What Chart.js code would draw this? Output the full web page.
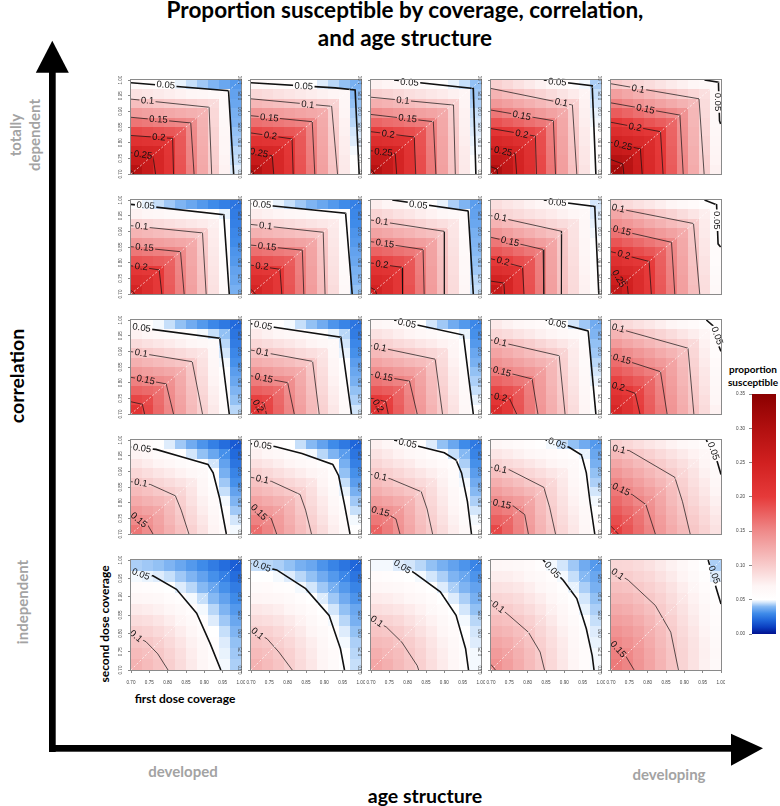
<!DOCTYPE html>
<html>
<head>
<meta charset="utf-8">
<script src="https://cdn.jsdelivr.net/npm/chart.js@4.4.1/dist/chart.umd.min.js"></script>
<style>
  html, body { margin: 0; padding: 0; background: #fff; }
  body { position: relative; width: 780px; height: 806px; overflow: hidden; font-family: Lato, "Noto Sans", sans-serif; }
  .title { position: absolute; left: 30px; width: 750px; top: -4.4px; text-align: center; font-weight: 700; font-size: 22.5px; line-height: 28px; color: #000; }
  .c { position: absolute; transform: translate(-50%, -50%); white-space: nowrap; text-align: center; }
  .rot { transform: translate(-50%, -50%) rotate(-90deg); }
  .grey { color: #a3a3a3; font-weight: 700; font-size: 15px; line-height: 19px; }
  .big { color: #000; font-weight: 700; font-size: 19.5px; }
  .axis { color: #000; font-weight: 700; font-size: 12px; }
  .key { color: #000; font-weight: 700; font-size: 10px; line-height: 12.5px; }
  canvas { position: absolute; }
</style>
</head>
<body>
<div class="title">Proportion susceptible by coverage, correlation,<br>and age structure</div>

<svg width="780" height="806" style="position:absolute;left:0;top:0">
  <rect x="49" y="70" width="6.7" height="682" fill="#000"/>
  <polygon points="52.3,40.7 35.8,72.7 68.8,72.7" fill="#000"/>
  <rect x="49" y="745" width="683" height="6.7" fill="#000"/>
  <polygon points="731,733.8 731,765.8 763,748.3" fill="#000"/>
</svg>

<div class="c rot grey" style="left:24.5px;top:135px">totally<br>dependent</div>
<div class="c rot big" style="left:16px;top:376px">correlation</div>
<div class="c rot grey" style="left:22px;top:602px">independent</div>
<div class="c grey" style="left:183px;top:771px">developed</div>
<div class="c grey" style="left:669px;top:774px">developing</div>
<div class="c big" style="left:425px;top:795px">age structure</div>
<div class="c rot axis" style="left:104px;top:624px">second dose coverage</div>
<div class="c axis" style="left:185px;top:698px">first dose coverage</div>
<div class="c key" style="left:753px;top:375px">proportion<br>susceptible</div>

<script>
"use strict";

// axes shared by every panel
const coverageTicks = [0.7, 0.75, 0.8, 0.85, 0.9, 0.95, 1.0];
const cellCentres = [0.715, 0.745, 0.775, 0.805, 0.835, 0.865, 0.895, 0.925, 0.955, 0.985];
const contourLevels = [0.05, 0.1, 0.15, 0.2, 0.25, 0.3];
const colourbarTicks = [0, 0.05, 0.1, 0.15, 0.2, 0.25, 0.3, 0.35];

// proportion susceptible, one 10x10 grid per age structure (developed -> developing),
// rows from second dose coverage 0.985 (top) down to 0.715, columns first dose 0.715 -> 0.985
const dependentGrids = [
  [[.060,.057,.054,.051,.048,.045,.042,.039,.036,.033],[.084,.081,.078,.075,.072,.069,.066,.063,.060,.035],[.110,.107,.104,.101,.098,.095,.092,.089,.062,.036],[.136,.133,.130,.127,.124,.121,.118,.091,.063,.038],[.163,.160,.157,.154,.151,.148,.120,.092,.065,.039],[.191,.188,.185,.182,.179,.150,.121,.094,.066,.041],[.217,.214,.211,.208,.181,.151,.123,.095,.068,.042],[.242,.239,.236,.210,.182,.153,.124,.097,.069,.044],[.266,.263,.238,.211,.184,.154,.126,.098,.071,.045],[.291,.265,.239,.213,.185,.156,.127,.100,.072,.047]],
  [[.065,.062,.059,.056,.053,.050,.047,.044,.041,.038],[.091,.088,.085,.082,.079,.076,.073,.070,.067,.040],[.116,.113,.110,.107,.104,.101,.098,.095,.069,.041],[.142,.139,.136,.133,.130,.127,.124,.097,.070,.043],[.167,.164,.161,.158,.155,.152,.126,.098,.072,.044],[.191,.188,.185,.182,.179,.154,.127,.100,.073,.046],[.215,.212,.209,.206,.181,.155,.129,.101,.075,.047],[.240,.237,.234,.208,.182,.157,.130,.103,.076,.049],[.265,.262,.236,.209,.184,.158,.132,.104,.078,.050],[.291,.264,.237,.211,.185,.160,.133,.106,.079,.052]],
  [[.073,.070,.066,.062,.059,.055,.052,.048,.045,.041],[.098,.095,.091,.087,.084,.080,.077,.073,.070,.042],[.122,.119,.115,.112,.108,.104,.101,.097,.071,.043],[.148,.144,.140,.137,.133,.130,.126,.098,.072,.045],[.173,.169,.166,.162,.159,.155,.127,.099,.073,.046],[.198,.195,.191,.188,.184,.156,.128,.101,.074,.047],[.223,.220,.216,.213,.185,.157,.130,.102,.075,.048],[.248,.245,.241,.214,.186,.159,.131,.103,.077,.049],[.271,.267,.242,.215,.188,.160,.132,.104,.078,.051],[.291,.268,.243,.216,.189,.161,.133,.105,.079,.052]],
  [[.097,.091,.085,.079,.073,.067,.061,.055,.049,.043],[.119,.113,.107,.101,.095,.089,.083,.077,.071,.045],[.139,.133,.127,.121,.115,.109,.103,.097,.072,.046],[.162,.156,.150,.144,.138,.132,.126,.099,.074,.048],[.185,.179,.173,.167,.161,.155,.128,.100,.075,.049],[.210,.204,.198,.192,.186,.157,.129,.102,.077,.051],[.234,.228,.222,.216,.188,.158,.131,.103,.078,.052],[.253,.247,.241,.218,.189,.160,.132,.105,.080,.054],[.277,.271,.243,.219,.191,.161,.134,.106,.081,.055],[.301,.273,.244,.221,.192,.163,.135,.108,.083,.057]],
  [[.102,.097,.093,.088,.083,.078,.074,.069,.064,.059],[.134,.128,.122,.116,.110,.104,.098,.092,.086,.061],[.156,.150,.144,.138,.132,.126,.120,.114,.088,.062],[.179,.173,.167,.161,.155,.149,.143,.116,.089,.064],[.202,.196,.190,.184,.178,.172,.145,.117,.091,.065],[.224,.218,.212,.206,.200,.174,.146,.119,.092,.067],[.245,.239,.233,.227,.202,.175,.148,.120,.094,.068],[.267,.261,.255,.229,.203,.177,.149,.122,.095,.070],[.292,.286,.257,.230,.205,.178,.151,.123,.097,.071],[.317,.288,.258,.232,.206,.180,.152,.125,.098,.073]]
];
const correlationGrids2 = [
  [[.051,.048,.045,.042,.039,.036,.033,.030,.027,.024],[.072,.069,.066,.063,.060,.057,.054,.051,.048,.026],[.095,.092,.089,.086,.083,.080,.077,.074,.050,.027],[.118,.115,.112,.109,.106,.103,.100,.076,.051,.029],[.140,.137,.134,.131,.128,.125,.102,.077,.053,.030],[.162,.159,.156,.153,.150,.127,.103,.079,.054,.032],[.184,.181,.178,.175,.152,.128,.105,.080,.056,.033],[.207,.204,.201,.177,.153,.130,.106,.082,.057,.035],[.225,.222,.203,.178,.155,.131,.108,.083,.059,.036],[.243,.224,.204,.180,.156,.133,.109,.085,.060,.038]],
  [[.054,.051,.048,.045,.042,.039,.036,.033,.030,.027],[.076,.073,.070,.067,.064,.061,.058,.055,.052,.029],[.098,.095,.092,.089,.086,.083,.080,.077,.054,.030],[.120,.117,.114,.111,.108,.105,.102,.079,.055,.032],[.143,.140,.137,.134,.131,.128,.104,.080,.057,.033],[.166,.163,.160,.157,.154,.130,.105,.082,.058,.035],[.188,.185,.182,.179,.156,.131,.107,.083,.060,.036],[.209,.206,.203,.181,.157,.133,.108,.085,.061,.038],[.226,.223,.205,.182,.159,.134,.110,.086,.063,.039],[.243,.225,.206,.184,.160,.136,.111,.088,.064,.041]],
  [[.075,.070,.066,.061,.057,.052,.048,.043,.039,.034],[.094,.090,.085,.081,.076,.072,.067,.063,.058,.035],[.113,.108,.104,.099,.095,.090,.086,.081,.059,.036],[.131,.127,.122,.118,.113,.109,.104,.082,.060,.038],[.153,.148,.144,.139,.135,.130,.105,.083,.062,.039],[.174,.170,.165,.161,.156,.131,.106,.085,.063,.040],[.196,.191,.187,.182,.157,.132,.108,.086,.064,.041],[.215,.211,.206,.183,.158,.134,.109,.087,.065,.042],[.232,.227,.207,.184,.160,.135,.110,.088,.066,.044],[.247,.228,.208,.186,.161,.136,.111,.089,.068,.045]],
  [[.087,.082,.078,.073,.069,.064,.060,.055,.051,.046],[.097,.093,.089,.085,.081,.077,.073,.069,.065,.047],[.118,.113,.108,.103,.098,.093,.088,.083,.066,.048],[.142,.135,.128,.122,.115,.109,.102,.084,.067,.049],[.162,.155,.149,.142,.135,.129,.103,.085,.068,.050],[.182,.176,.169,.162,.156,.130,.104,.086,.069,.051],[.203,.196,.189,.183,.157,.131,.105,.087,.070,.052],[.224,.218,.211,.184,.158,.132,.106,.088,.071,.053],[.247,.240,.212,.185,.159,.133,.107,.089,.072,.054],[.270,.241,.213,.186,.160,.134,.108,.090,.073,.055]],
  [[.095,.090,.085,.080,.075,.070,.065,.060,.055,.050],[.128,.121,.115,.108,.101,.095,.088,.082,.075,.052],[.146,.140,.133,.126,.120,.113,.107,.100,.077,.053],[.165,.158,.151,.145,.138,.132,.125,.102,.078,.055],[.183,.176,.170,.163,.157,.150,.127,.103,.080,.056],[.201,.195,.188,.182,.175,.152,.128,.105,.081,.058],[.219,.212,.206,.199,.177,.153,.130,.106,.083,.059],[.237,.231,.224,.201,.178,.155,.131,.108,.084,.061],[.255,.248,.226,.202,.180,.156,.133,.109,.086,.062],[.273,.250,.227,.204,.181,.158,.134,.111,.087,.064]]
];
const correlationGrids3 = [
  [[.057,.053,.049,.045,.041,.037,.033,.029,.025,.021],[.073,.069,.065,.061,.057,.053,.049,.045,.041,.024],[.089,.085,.081,.077,.073,.069,.065,.061,.044,.026],[.105,.101,.097,.093,.089,.085,.081,.064,.046,.029],[.121,.117,.113,.109,.105,.101,.084,.066,.049,.031],[.139,.135,.131,.127,.123,.104,.086,.069,.051,.034],[.156,.152,.148,.144,.126,.106,.089,.071,.054,.036],[.174,.170,.166,.147,.128,.109,.091,.074,.056,.039],[.193,.189,.169,.149,.131,.111,.094,.076,.059,.041],[.212,.192,.171,.152,.133,.114,.096,.079,.061,.044]],
  [[.062,.058,.053,.049,.045,.041,.037,.032,.028,.024],[.077,.073,.069,.065,.060,.056,.052,.048,.044,.026],[.092,.088,.084,.080,.076,.071,.067,.063,.046,.029],[.107,.103,.099,.095,.090,.086,.082,.065,.048,.031],[.123,.119,.115,.111,.106,.102,.084,.068,.051,.034],[.141,.137,.132,.128,.124,.104,.087,.070,.053,.036],[.159,.154,.150,.146,.126,.107,.089,.072,.055,.038],[.177,.173,.169,.148,.129,.109,.091,.075,.058,.041],[.196,.192,.171,.151,.131,.112,.094,.077,.060,.043],[.215,.194,.174,.153,.134,.114,.096,.080,.063,.046]],
  [[.069,.064,.060,.055,.051,.046,.042,.037,.033,.029],[.084,.080,.075,.071,.066,.062,.057,.053,.048,.031],[.099,.095,.090,.086,.081,.077,.072,.068,.050,.033],[.114,.110,.105,.101,.096,.092,.087,.070,.053,.036],[.130,.125,.121,.116,.112,.107,.089,.072,.055,.038],[.147,.143,.138,.134,.129,.109,.092,.075,.058,.041],[.164,.159,.155,.150,.131,.112,.094,.077,.060,.043],[.182,.178,.173,.152,.134,.114,.097,.079,.063,.045],[.201,.196,.175,.155,.136,.116,.099,.082,.065,.048],[.219,.198,.178,.157,.139,.119,.101,.084,.067,.050]],
  [[.078,.073,.069,.064,.060,.055,.051,.046,.042,.037],[.092,.088,.083,.079,.074,.070,.065,.061,.056,.039],[.117,.111,.105,.099,.093,.087,.081,.075,.058,.041],[.130,.124,.118,.112,.106,.100,.094,.077,.060,.042],[.144,.138,.132,.126,.120,.114,.096,.078,.061,.044],[.158,.152,.146,.140,.134,.116,.097,.080,.063,.046],[.174,.168,.162,.156,.136,.117,.099,.082,.065,.048],[.192,.186,.180,.158,.138,.119,.101,.084,.067,.050],[.210,.204,.182,.160,.139,.121,.103,.086,.069,.051],[.228,.206,.184,.161,.141,.123,.105,.088,.070,.053]],
  [[.095,.090,.085,.080,.075,.070,.065,.060,.055,.050],[.118,.112,.106,.100,.094,.088,.082,.076,.070,.052],[.136,.129,.123,.116,.110,.103,.097,.090,.072,.055],[.155,.148,.140,.133,.125,.118,.110,.092,.075,.057],[.168,.160,.153,.145,.138,.130,.112,.095,.077,.060],[.180,.173,.165,.158,.150,.132,.115,.097,.080,.062],[.195,.187,.180,.172,.152,.135,.117,.100,.082,.064],[.209,.202,.194,.174,.155,.137,.120,.102,.084,.067],[.224,.216,.196,.177,.157,.140,.122,.104,.087,.069],[.238,.218,.199,.179,.160,.142,.124,.107,.089,.072]]
];
const correlationGrids4 = [
  [[.062,.057,.052,.047,.042,.037,.032,.027,.022,.017],[.071,.066,.061,.056,.051,.046,.041,.036,.031,.021],[.081,.076,.071,.066,.061,.056,.051,.046,.035,.024],[.092,.087,.082,.077,.072,.067,.062,.050,.038,.028],[.103,.098,.093,.088,.083,.078,.066,.053,.042,.031],[.113,.108,.103,.098,.093,.082,.069,.057,.045,.035],[.125,.120,.115,.110,.097,.085,.073,.060,.049,.039],[.137,.132,.127,.114,.100,.089,.076,.064,.053,.042],[.149,.144,.131,.117,.104,.092,.080,.068,.056,.046],[.162,.148,.134,.121,.108,.096,.084,.071,.060,.049]],
  [[.065,.060,.055,.050,.045,.040,.035,.030,.025,.020],[.074,.069,.064,.059,.054,.049,.044,.039,.034,.024],[.085,.080,.075,.070,.065,.060,.055,.050,.038,.027],[.096,.091,.086,.081,.076,.071,.066,.054,.041,.031],[.107,.102,.097,.092,.087,.082,.070,.057,.045,.034],[.117,.112,.107,.102,.097,.086,.073,.061,.048,.038],[.130,.125,.120,.115,.101,.089,.077,.064,.052,.042],[.142,.137,.132,.119,.104,.093,.080,.068,.056,.045],[.155,.150,.136,.122,.108,.096,.084,.072,.059,.049],[.168,.154,.139,.126,.111,.100,.088,.075,.063,.052]],
  [[.074,.068,.063,.057,.052,.047,.041,.036,.030,.025],[.083,.078,.072,.067,.062,.056,.051,.045,.040,.028],[.093,.087,.082,.077,.071,.066,.060,.055,.043,.031],[.102,.097,.092,.086,.081,.075,.070,.058,.046,.034],[.112,.107,.101,.096,.090,.085,.073,.061,.049,.037],[.122,.116,.111,.105,.100,.088,.076,.064,.052,.040],[.135,.130,.124,.119,.103,.091,.079,.067,.055,.043],[.149,.143,.138,.122,.106,.094,.082,.070,.058,.046],[.161,.156,.141,.125,.109,.097,.085,.073,.061,.049],[.175,.159,.144,.128,.112,.100,.088,.076,.064,.052]],
  [[.068,.064,.060,.056,.053,.049,.045,.041,.037,.033],[.081,.077,.073,.069,.064,.060,.056,.052,.048,.036],[.095,.090,.086,.081,.076,.071,.067,.062,.051,.038],[.108,.103,.097,.092,.087,.081,.076,.065,.053,.041],[.122,.116,.110,.103,.097,.091,.079,.067,.056,.043],[.135,.128,.122,.115,.108,.094,.081,.070,.058,.046],[.149,.142,.136,.129,.111,.096,.084,.072,.061,.049],[.163,.157,.150,.132,.113,.099,.086,.075,.064,.051],[.176,.171,.153,.134,.116,.101,.089,.078,.066,.054],[.192,.174,.155,.137,.118,.104,.092,.080,.069,.056]],
  [[.097,.092,.087,.082,.077,.072,.067,.062,.057,.052],[.114,.108,.102,.096,.090,.084,.078,.072,.066,.056],[.128,.121,.114,.107,.100,.093,.086,.079,.070,.059],[.140,.132,.124,.116,.108,.100,.092,.083,.073,.063],[.152,.143,.134,.125,.116,.107,.096,.086,.077,.066],[.161,.152,.143,.134,.125,.111,.099,.090,.080,.070],[.170,.161,.152,.143,.129,.114,.103,.093,.084,.074],[.179,.170,.161,.147,.132,.118,.106,.097,.088,.077],[.188,.179,.165,.150,.136,.121,.110,.101,.091,.081],[.197,.183,.168,.154,.139,.125,.114,.104,.095,.084]]
];
const independentGrids = [
  [[.043,.042,.041,.039,.036,.033,.030,.026,.022,.018],[.049,.048,.047,.045,.042,.039,.035,.031,.027,.022],[.058,.057,.054,.051,.047,.044,.040,.036,.031,.026],[.068,.067,.064,.059,.054,.049,.045,.040,.035,.030],[.078,.076,.073,.068,.062,.056,.049,.044,.039,.033],[.088,.086,.082,.076,.070,.062,.054,.047,.042,.036],[.098,.095,.090,.084,.076,.068,.059,.051,.045,.039],[.106,.103,.098,.090,.082,.073,.064,.054,.047,.041],[.113,.109,.103,.095,.086,.076,.067,.057,.048,.042],[.120,.113,.106,.098,.088,.078,.068,.058,.049,.043]],
  [[.045,.044,.043,.041,.038,.036,.032,.028,.024,.020],[.051,.050,.049,.047,.044,.041,.037,.033,.029,.024],[.061,.060,.057,.054,.049,.046,.042,.038,.033,.028],[.070,.069,.066,.062,.057,.051,.047,.042,.037,.032],[.080,.078,.075,.070,.065,.058,.051,.046,.041,.036],[.089,.087,.083,.078,.072,.065,.057,.049,.044,.038],[.098,.096,.091,.085,.078,.070,.062,.054,.047,.041],[.106,.103,.098,.091,.083,.075,.066,.057,.049,.043],[.113,.109,.103,.096,.087,.078,.069,.060,.050,.044],[.120,.113,.106,.098,.089,.080,.070,.061,.051,.045]],
  [[.049,.049,.047,.046,.044,.041,.038,.035,.032,.028],[.058,.057,.055,.051,.049,.046,.043,.039,.036,.032],[.068,.066,.064,.060,.056,.050,.047,.043,.039,.035],[.077,.076,.073,.069,.064,.058,.051,.047,.043,.038],[.087,.085,.082,.077,.072,.065,.058,.050,.046,.041],[.097,.095,.091,.085,.079,.072,.064,.056,.049,.044],[.105,.103,.099,.093,.085,.077,.069,.060,.051,.046],[.114,.111,.105,.099,.091,.082,.073,.064,.055,.047],[.122,.117,.111,.103,.095,.085,.076,.066,.057,.049],[.129,.122,.114,.105,.097,.087,.077,.068,.058,.049]],
  [[.068,.066,.064,.060,.055,.049,.046,.042,.037,.033],[.076,.075,.072,.067,.062,.056,.049,.045,.040,.036],[.085,.083,.080,.075,.069,.062,.055,.048,.043,.038],[.094,.092,.088,.082,.076,.069,.061,.052,.046,.041],[.102,.100,.095,.089,.082,.074,.066,.057,.048,.043],[.111,.108,.103,.096,.088,.079,.070,.061,.051,.045],[.120,.116,.110,.102,.093,.084,.074,.064,.054,.047],[.129,.124,.116,.107,.097,.087,.077,.067,.056,.048],[.137,.131,.121,.111,.100,.090,.079,.069,.058,.049],[.145,.135,.124,.113,.102,.091,.080,.070,.059,.049]],
  [[.093,.092,.089,.085,.079,.073,.066,.059,.051,.043],[.100,.099,.095,.091,.085,.078,.071,.063,.055,.047],[.109,.107,.102,.097,.091,.084,.076,.068,.059,.050],[.117,.115,.110,.103,.096,.088,.080,.072,.063,.054],[.126,.123,.117,.110,.101,.093,.084,.075,.066,.056],[.134,.131,.124,.116,.106,.097,.087,.078,.069,.059],[.143,.138,.131,.121,.111,.100,.090,.081,.071,.061],[.151,.145,.136,.125,.114,.103,.093,.083,.073,.062],[.156,.151,.140,.129,.117,.105,.094,.084,.074,.064],[.160,.153,.142,.130,.118,.106,.094,.084,.073,.063]]
];

// contour lines: [level, path of (first, second) coverage, label at [first, second, angle]]
const dependentContours = [
  [[0.05, [[.70,.991],[.966,.966],[.98,.70]], [.795,.985,5]], [0.1, [[.70,.939],[.913,.913],[.92,.70]], [.745,.935,3]], [0.15, [[.70,.881],[.863,.863],[.872,.70]], [.775,.875,3]], [0.2, [[.70,.823],[.8135,.8135],[.816,.70]], [.776,.818,3]], [0.25, [[.70,.768],[.76,.757],[.767,.70]], [.733,.762,8]], [0.3, [[.70,.712],[.708,.70]], null]],
  [[0.05, [[.70,.991],[.93,.975],[.984,.968],[.995,.70]], [.844,.981,4]], [0.1, [[.70,.94],[.92,.916],[.936,.70]], [.855,.922,6]], [0.15, [[.70,.886],[.867,.867],[.874,.70]], [.75,.88,6]], [0.2, [[.70,.831],[.812,.812],[.815,.70]], [.753,.823,8]], [0.25, [[.70,.774],[.758,.758],[.762,.70]], [.722,.768,12]], [0.3, [[.70,.712],[.708,.70]], null]],
  [[0.05, [[.763,1.0],[.979,.973],[.986,.70]], [.805,.993,4]], [0.1, [[.70,.945],[.925,.92],[.93,.70]], [.787,.935,6]], [0.15, [[.70,.89],[.87,.867],[.877,.70]], [.80,.878,7]], [0.2, [[.70,.835],[.818,.818],[.822,.70]], [.747,.828,8]], [0.25, [[.70,.774],[.766,.766],[.77,.70]], [.734,.77,6]], [0.3, [[.70,.715],[.71,.70]], null]],
  [[0.05, [[.844,1.0],[.976,.982],[.986,.70]], [.881,.994,4]], [0.1, [[.70,.973],[.922,.92],[.934,.70]], [.892,.929,12]], [0.15, [[.70,.904],[.87,.87],[.876,.70]], [.784,.887,12]], [0.2, [[.70,.845],[.821,.821],[.824,.70]], [.784,.828,12]], [0.25, [[.70,.78],[.766,.766],[.77,.70]], [.733,.773,12]], [0.3, [[.70,.723],[.716,.716],[.718,.70]], null]],
  [[0.05, [[.955,1.0],[.993,.993],[.996,.87],[.999,.86]], [.991,.93,90]], [0.1, [[.70,.988],[.94,.94],[.954,.70]], [.774,.972,12]], [0.15, [[.70,.927],[.888,.888],[.897,.70]], [.794,.908,12]], [0.2, [[.70,.865],[.835,.835],[.842,.70]], [.766,.85,12]], [0.25, [[.70,.801],[.78,.78],[.785,.70]], [.733,.792,14]], [0.3, [[.70,.746],[.732,.732],[.735,.70]], null]]
];
const correlationContours2 = [
  [[0.05, [[.70,.986],[.953,.953],[.968,.70]], [.74,.983,5]], [0.1, [[.70,.918],[.895,.895],[.905,.70]], [.729,.917,5]], [0.15, [[.70,.851],[.835,.835],[.845,.70]], [.737,.849,5]], [0.2, [[.70,.79],[.777,.777],[.784,.70]], [.728,.788,5]], [0.25, [[.70,.712],[.71,.70]], null]],
  [[0.05, [[.70,.988],[.958,.958],[.976,.70]], [.73,.986,5]], [0.1, [[.70,.922],[.897,.897],[.902,.70]], [.74,.918,6]], [0.15, [[.70,.856],[.84,.84],[.844,.70]], [.744,.852,6]], [0.2, [[.70,.792],[.779,.779],[.784,.70]], [.73,.789,6]], [0.25, [[.70,.715],[.712,.70]], null]],
  [[0.05, [[.758,1.0],[.965,.965],[.979,.70]], [.829,.985,6]], [0.1, [[.70,.936],[.90,.90],[.90,.70]], [.73,.932,8]], [0.15, [[.70,.867],[.842,.842],[.845,.70]], [.738,.862,8]], [0.2, [[.70,.799],[.785,.785],[.786,.70]], [.73,.795,8]], [0.25, [[.70,.72],[.712,.712],[.715,.70]], null]],
  [[0.05, [[.844,1.0],[.983,.979],[.994,.70]], [.881,.993,5]], [0.1, [[.70,.95],[.893,.90],[.892,.70]], [.726,.945,12]], [0.15, [[.70,.881],[.842,.842],[.844,.70]], [.752,.868,14]], [0.2, [[.70,.8125],[.786,.786],[.79,.70]], [.733,.805,14]], [0.25, [[.70,.741],[.735,.735],[.737,.70]], null]],
  [[0.05, [[.955,1.0],[.988,.985],[.992,.86],[.999,.85]], [.99,.935,90]], [0.1, [[.70,.977],[.925,.925],[.942,.70]], [.72,.974,12]], [0.15, [[.70,.909],[.865,.865],[.874,.70]], [.73,.903,14]], [0.2, [[.70,.835],[.804,.804],[.81,.70]], [.735,.826,15]], [0.25, [[.70,.762],[.743,.743],[.747,.70]], [.722,.75,60]]]
];
const correlationContours3 = [
  [[0.05, [[.70,.979],[.942,.942],[.968,.70]], [.729,.976,8]], [0.1, [[.70,.899],[.867,.867],[.895,.70]], [.728,.895,10]], [0.15, [[.70,.817],[.796,.796],[.816,.70]], [.74,.81,12]], [0.2, [[.70,.739],[.731,.731],[.737,.70]], null]],
  [[0.05, [[.70,.988],[.945,.945],[.974,.70]], [.733,.983,10]], [0.1, [[.70,.904],[.868,.868],[.886,.70]], [.732,.898,12]], [0.15, [[.70,.822],[.80,.80],[.818,.70]], [.735,.815,12]], [0.2, [[.70,.745],[.735,.735],[.742,.70]], [.72,.726,60]]],
  [[0.05, [[.763,1.0],[.952,.952],[.979,.70]], [.798,.99,12]], [0.1, [[.70,.918],[.875,.875],[.895,.70]], [.725,.913,12]], [0.15, [[.70,.826],[.805,.805],[.826,.70]], [.735,.82,12]], [0.2, [[.70,.75],[.74,.74],[.747,.70]], [.72,.727,60]]],
  [[0.05, [[.849,1.0],[.965,.965],[.986,.70]], [.881,.99,12]], [0.1, [[.70,.936],[.886,.886],[.902,.70]], [.726,.93,14]], [0.15, [[.70,.845],[.812,.812],[.828,.70]], [.73,.836,15]], [0.2, [[.70,.762],[.75,.75],[.77,.70]], [.726,.754,12]]],
  [[0.05, [[.96,1.0],[.985,.975],[.993,.92],[1.0,.90]], [.99,.95,70]], [0.1, [[.70,.979],[.91,.91],[.926,.70]], [.72,.975,15]], [0.15, [[.70,.886],[.835,.835],[.853,.70]], [.73,.876,15]], [0.2, [[.70,.794],[.766,.766],[.779,.70]], [.72,.788,15]]]
];
const correlationContours4 = [
  [[0.05, [[.70,.977],[.768,.97],[.842,.945],[.91,.922],[.924,.895],[.942,.8125],[.96,.70]], [.73,.974,8]], [0.1, [[.70,.867],[.753,.858],[.821,.822],[.837,.776],[.858,.70]], [.727,.864,10]], [0.15, [[.70,.755],[.745,.73],[.76,.70]], [.722,.745,40]]],
  [[0.05, [[.70,.988],[.765,.979],[.839,.957],[.923,.922],[.939,.886],[.955,.794],[.97,.70]], [.732,.984,8]], [0.1, [[.70,.881],[.756,.868],[.834,.826],[.849,.776],[.865,.70]], [.731,.875,12]], [0.15, [[.70,.79],[.755,.75],[.77,.70]], [.722,.77,45]]],
  [[0.05, [[.763,1.0],[.832,.979],[.90,.959],[.932,.936],[.947,.895],[.963,.8035],[.974,.70]], [.80,.99,12]], [0.1, [[.70,.89],[.753,.876],[.837,.835],[.853,.78],[.868,.70]], [.726,.884,12]], [0.15, [[.70,.78],[.743,.765],[.768,.748],[.779,.70]], [.726,.772,15]]],
  [[0.05, [[.849,1.0],[.913,.977],[.947,.952],[.96,.895],[.97,.803],[.983,.70]], [.881,.99,20]], [0.1, [[.70,.913],[.75,.905],[.844,.849],[.86,.785],[.876,.70]], [.726,.908,12]], [0.15, [[.70,.803],[.76,.79],[.792,.762],[.802,.70]], [.73,.796,12]]],
  [[0.05, [[.96,1.0],[.99,.93],[1.0,.89]], [.98,.965,70]], [0.1, [[.70,.975],[.75,.966],[.874,.881],[.895,.803],[.916,.70]], [.722,.971,12]], [0.15, [[.70,.858],[.759,.825],[.795,.794],[.821,.70]], [.728,.843,25]], [0.2, [[.70,.725],[.72,.70]], null]]
];
const independentContours = [
  [[0.05, [[.70,.962],[.76,.957],[.824,.92],[.879,.855],[.916,.772],[.945,.70]], [.727,.962,20]], [0.1, [[.70,.80],[.741,.777],[.773,.744],[.801,.70]], [.714,.793,40]]],
  [[0.05, [[.70,.99],[.77,.973],[.849,.922],[.913,.849],[.944,.758],[.955,.70]], [.73,.984,20]], [0.1, [[.70,.81],[.744,.785],[.776,.749],[.8125,.70]], [.718,.8,40]]],
  [[0.05, [[.765,1.0],[.821,.963],[.889,.913],[.932,.849],[.958,.758],[.966,.70]], [.786,.982,32]], [0.1, [[.70,.84],[.742,.817],[.784,.776],[.826,.712],[.83,.70]], [.716,.833,35]]],
  [[0.05, [[.842,1.0],[.897,.945],[.934,.895],[.96,.8125],[.976,.739],[.981,.70]], [.868,.973,48]], [0.1, [[.70,.89],[.749,.849],[.802,.803],[.834,.749],[.846,.70]], [.72,.872,38]], [0.15, [[.70,.715],[.712,.70]], null]],
  [[0.05, [[.965,1.0],[.985,.93],[1.0,.88]], [.982,.96,70]], [0.1, [[.70,.975],[.747,.945],[.821,.876],[.863,.803],[.884,.70]], [.718,.962,35]], [0.15, [[.70,.78],[.742,.735],[.763,.70]], [.72,.757,48]]]
];

// colour key: proportion -> colour
const colourStops = [
  [0.000, "#00108f"], [0.010, "#0b3fc1"], [0.020, "#1f66da"], [0.030, "#3f8be9"],
  [0.040, "#86b9f3"], [0.046, "#d3e6fb"], [0.050, "#ffffff"], [0.070, "#fef5f5"],
  [0.100, "#f8cccc"], [0.150, "#ef8a8a"], [0.200, "#e63a3a"], [0.250, "#d12020"],
  [0.300, "#b10f0f"], [0.350, "#8b0000"]
];

const correlationRows = [
  { grids: dependentGrids, contours: dependentContours },
  { grids: correlationGrids2, contours: correlationContours2 },
  { grids: correlationGrids3, contours: correlationContours3 },
  { grids: correlationGrids4, contours: correlationContours4 },
  { grids: independentGrids, contours: independentContours }
];

const panelLeft = 131;
const panelTop = 80;
const panelStep = 120;
const panelSize = 110;
const axisWidth = 24;
const axisHeight = 16;
const tickFont = { family: "Liberation Sans", size: 4.6 };
const labelFont = "9.5px 'Liberation Sans'";

function hexToRgb(hex) {
  const n = parseInt(hex.slice(1), 16);
  return [(n >> 16) & 255, (n >> 8) & 255, n & 255];
}

function colourFor(value) {
  if (value <= colourStops[0][0]) return colourStops[0][1];
  for (let i = 1; i < colourStops.length; i++) {
    if (value <= colourStops[i][0]) {
      const [v0, c0] = colourStops[i - 1];
      const [v1, c1] = colourStops[i];
      const t = (value - v0) / (v1 - v0);
      const a = hexToRgb(c0);
      const b = hexToRgb(c1);
      return `rgb(${a.map((v, k) => Math.round(v + (b[k] - v) * t)).join(",")})`;
    }
  }
  return colourStops[colourStops.length - 1][1];
}

function heatmapLayer(grid) {
  return {
    id: "heatmap",
    beforeDatasetsDraw(chart) {
      const { ctx, scales: { x, y } } = chart;
      const half = (cellCentres[1] - cellCentres[0]) / 2;
      ctx.save();
      grid.forEach((cells, r) => {
        const cy = cellCentres[cellCentres.length - 1 - r];
        const y0 = Math.round(y.getPixelForValue(cy + half));
        const y1 = Math.round(y.getPixelForValue(cy - half));
        cells.forEach((value, c) => {
          const x0 = Math.round(x.getPixelForValue(cellCentres[c] - half));
          const x1 = Math.round(x.getPixelForValue(cellCentres[c] + half));
          ctx.fillStyle = colourFor(value);
          ctx.fillRect(x0, y0, x1 - x0, y1 - y0);
        });
      });
      ctx.restore();
    }
  };
}

// corners of the gap cut into a contour line where its label sits
function labelBox(chart, ds) {
  const { ctx, scales: { x, y } } = chart;
  const [lx, ly, deg] = ds.tag;
  ctx.save();
  ctx.font = labelFont;
  const w = ctx.measureText(String(ds.level)).width / 2 + 1.5;
  ctx.restore();
  const h = 4.5;
  const px = x.getPixelForValue(lx);
  const py = y.getPixelForValue(ly);
  const a = (deg * Math.PI) / 180;
  const cos = Math.cos(a);
  const sin = Math.sin(a);
  return [[-w, -h], [w, -h], [w, h], [-w, h]].map(([u, v]) => [px + u * cos - v * sin, py + u * sin + v * cos]);
}

const contourLabels = {
  id: "contourLabels",
  beforeDatasetDraw(chart, args) {
    const ds = chart.data.datasets[args.index];
    if (!ds.tag) return;
    const ctx = chart.ctx;
    ctx.save();
    ctx.beginPath();
    ctx.rect(0, 0, chart.width, chart.height);
    labelBox(chart, ds).forEach(([px, py], i) => (i ? ctx.lineTo(px, py) : ctx.moveTo(px, py)));
    ctx.closePath();
    ctx.clip("evenodd");
  },
  afterDatasetDraw(chart, args) {
    if (chart.data.datasets[args.index].tag) chart.ctx.restore();
  },
  afterDatasetsDraw(chart) {
    const { ctx, scales: { x, y } } = chart;
    chart.data.datasets.forEach((ds) => {
      if (!ds.tag) return;
      const [lx, ly, deg] = ds.tag;
      ctx.save();
      ctx.translate(x.getPixelForValue(lx), y.getPixelForValue(ly));
      ctx.rotate((deg * Math.PI) / 180);
      ctx.font = labelFont;
      ctx.fillStyle = "#111";
      ctx.textAlign = "center";
      ctx.textBaseline = "middle";
      ctx.fillText(String(ds.level), 0, 0.5);
      ctx.restore();
    });
  }
};

const panelFrame = {
  id: "panelFrame",
  afterDatasetsDraw(chart) {
    const { ctx, chartArea: a } = chart;
    ctx.save();
    ctx.strokeStyle = "#8a8a8a";
    ctx.lineWidth = 1;
    ctx.strokeRect(a.left - 0.5, a.top - 0.5, a.width + 1, a.height + 1);
    ctx.restore();
  }
};

function coverageAxis(show, vertical) {
  return {
    type: "linear",
    display: show,
    min: coverageTicks[0],
    max: coverageTicks[coverageTicks.length - 1],
    afterBuildTicks: (scale) => {
      scale.ticks = coverageTicks.map((value) => ({ value }));
    },
    afterFit: (scale) => {
      if (vertical) scale.width = axisWidth;
      else scale.height = axisHeight;
      scale.paddingLeft = scale.paddingRight = scale.paddingTop = scale.paddingBottom = 0;
    },
    border: { display: false },
    grid: { drawOnChartArea: false, tickLength: 3, color: "#555", lineWidth: 0.7 },
    ticks: {
      autoSkip: false,
      font: tickFont,
      color: "#444",
      padding: vertical ? 3 : 6.6,
      minRotation: vertical ? 90 : 0,
      maxRotation: vertical ? 90 : 0,
      crossAlign: vertical ? "center" : "near",
      callback: (value) => Number(value).toFixed(2)
    }
  };
}

function makePanel(row, col, grid, contours) {
  const isBottom = row === correlationRows.length - 1;
  const left = panelLeft + col * panelStep;
  const top = panelTop + row * panelStep;
  const w = axisWidth + panelSize + 4;
  const h = 4 + panelSize + (isBottom ? axisHeight : 4);

  const canvas = document.createElement("canvas");
  canvas.width = w;
  canvas.height = h;
  canvas.style.cssText = `left:${left - axisWidth}px;top:${top - 4}px;width:${w}px;height:${h}px`;
  document.body.appendChild(canvas);

  const lo = coverageTicks[0];
  const hi = coverageTicks[coverageTicks.length - 1];
  const datasets = [{
    data: [{ x: lo, y: lo }, { x: hi, y: hi }],
    borderColor: "rgba(255,255,255,0.85)",
    borderWidth: 0.8,
    borderDash: [2, 2],
    pointRadius: 0
  }];
  contours.forEach(([level, path, tag]) => {
    datasets.push({
      data: path.map(([x, y]) => ({ x, y })),
      level,
      tag,
      borderColor: "#111",
      borderWidth: level === contourLevels[0] ? 1.6 : 0.7,
      pointRadius: 0,
      tension: 0
    });
  });

  new Chart(canvas, {
    type: "line",
    data: { datasets },
    options: {
      responsive: false,
      animation: false,
      events: [],
      layout: { padding: { left: 0, right: 4, top: 4, bottom: isBottom ? 0 : 4 } },
      plugins: { legend: { display: false }, tooltip: { enabled: false } },
      scales: {
        x: coverageAxis(isBottom, false),
        y: coverageAxis(true, true)
      }
    },
    plugins: [heatmapLayer(grid), contourLabels, panelFrame]
  });
}

correlationRows.forEach((row, r) => {
  row.grids.forEach((grid, c) => makePanel(r, c, grid, row.contours[c]));
});

// colour key on the right
const colourbarFill = {
  id: "colourbarFill",
  beforeDatasetsDraw(chart) {
    const { ctx, chartArea: a, scales: { y } } = chart;
    const first = colourStops[0][0];
    const last = colourStops[colourStops.length - 1][0];
    const y0 = y.getPixelForValue(first);
    const y1 = y.getPixelForValue(last);
    const g = ctx.createLinearGradient(0, y0, 0, y1);
    colourStops.forEach(([v, c]) => g.addColorStop((v - first) / (last - first), c));
    ctx.save();
    ctx.fillStyle = g;
    ctx.fillRect(a.left, y1, a.width, y0 - y1);
    ctx.restore();
  }
};

const keyCanvas = document.createElement("canvas");
keyCanvas.width = 54;
keyCanvas.height = 248;
keyCanvas.style.cssText = "left:726px;top:390px;width:54px;height:248px";
document.body.appendChild(keyCanvas);

new Chart(keyCanvas, {
  type: "line",
  data: { datasets: [] },
  options: {
    responsive: false,
    animation: false,
    events: [],
    layout: { padding: { left: 0, right: 4, top: 4, bottom: 4 } },
    plugins: { legend: { display: false }, tooltip: { enabled: false } },
    scales: {
      x: { type: "linear", display: false, min: 0, max: 1 },
      y: {
        type: "linear",
        min: colourbarTicks[0],
        max: colourbarTicks[colourbarTicks.length - 1],
        afterBuildTicks: (scale) => {
          scale.ticks = colourbarTicks.map((value) => ({ value }));
        },
        afterFit: (scale) => {
          scale.width = 26;
          scale.paddingTop = scale.paddingBottom = 0;
        },
        border: { display: false },
        grid: { drawOnChartArea: false, tickLength: 3, color: "#555", lineWidth: 0.7 },
        ticks: { autoSkip: false, font: tickFont, color: "#444", padding: 4, callback: (value) => Number(value).toFixed(2) }
      }
    }
  },
  plugins: [colourbarFill]
});
</script>
</body>
</html>
